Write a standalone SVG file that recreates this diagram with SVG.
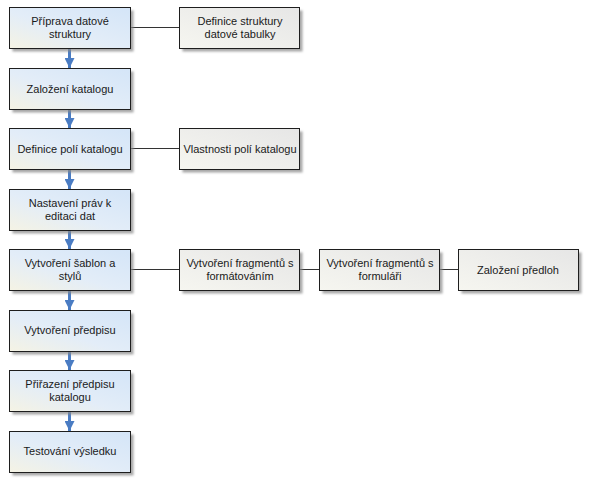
<svg xmlns="http://www.w3.org/2000/svg" width="595" height="483" viewBox="0 0 595 483">
<defs>
<linearGradient id="gb" x1="0" y1="1" x2="1" y2="0">
<stop offset="0" stop-color="#f5f3e4"/>
<stop offset="0.45" stop-color="#e3edf8"/>
<stop offset="1" stop-color="#d4e5f8"/>
</linearGradient>
<linearGradient id="gg" x1="0" y1="1" x2="1" y2="0">
<stop offset="0" stop-color="#f6f6f0"/>
<stop offset="1" stop-color="#e6e6e6"/>
</linearGradient>
<filter id="sh" x="-10%" y="-10%" width="130%" height="140%">
<feGaussianBlur stdDeviation="1.2"/>
</filter>
<marker id="ah" viewBox="0 0 10 10" refX="10" refY="5" markerWidth="10" markerHeight="10" markerUnits="userSpaceOnUse" orient="auto">
<path d="M0,0 L10,5 L0,10 Z" fill="#4a7cc3"/>
</marker>
</defs>
<style>
.sh{fill:#8a8a8a;opacity:0.75;filter:url(#sh)}
.b{fill:url(#gb);stroke:#1e1e1e;stroke-width:1}
.g{fill:url(#gg);stroke:#1e1e1e;stroke-width:1}
text{font-family:"Liberation Sans",Arial,sans-serif;font-size:11px;fill:#1a1a1a;text-anchor:middle}
.ar{stroke:#4a7cc3;stroke-width:3;fill:none;marker-end:url(#ah)}
.ln{stroke:#333;stroke-width:1;fill:none}
</style>
<rect width="595" height="483" fill="#ffffff"/>
<g id="connectors">
<path class="ar" d="M69.5,49 V68"/>
<path class="ar" d="M69.5,110 V128"/>
<path class="ar" d="M69.5,170 V189"/>
<path class="ar" d="M69.5,231 V249"/>
<path class="ar" d="M69.5,291 V310"/>
<path class="ar" d="M69.5,352 V370"/>
<path class="ar" d="M69.5,412 V431"/>
<path class="ln" d="M130,27.5 H179"/>
<path class="ln" d="M130,148.5 H179"/>
<path class="ln" d="M130,269.5 H179"/>
<path class="ln" d="M299,269.5 H319"/>
<path class="ln" d="M439,269.5 H458"/>
</g>
<g id="n1"><rect class="sh" x="12.5" y="10.5" width="121" height="41"/><rect class="b" x="9.5" y="7.5" width="121" height="41"/><text x="70" y="25">Příprava datové</text><text x="70" y="38">struktury</text></g>
<g id="n2"><rect class="sh" x="12.5" y="71.5" width="121" height="41"/><rect class="b" x="9.5" y="68.5" width="121" height="41"/><text x="70" y="93">Založení katalogu</text></g>
<g id="n3"><rect class="sh" x="12.5" y="131.5" width="121" height="41"/><rect class="b" x="9.5" y="128.5" width="121" height="41"/><text x="70" y="153">Definice polí katalogu</text></g>
<g id="n4"><rect class="sh" x="12.5" y="192.5" width="121" height="41"/><rect class="b" x="9.5" y="189.5" width="121" height="41"/><text x="70" y="207">Nastavení práv k</text><text x="70" y="220">editaci dat</text></g>
<g id="n5"><rect class="sh" x="12.5" y="252.5" width="121" height="41"/><rect class="b" x="9.5" y="249.5" width="121" height="41"/><text x="70" y="267">Vytvoření šablon a</text><text x="70" y="280">stylů</text></g>
<g id="n6"><rect class="sh" x="12.5" y="313.5" width="121" height="41"/><rect class="b" x="9.5" y="310.5" width="121" height="41"/><text x="70" y="334">Vytvoření předpisu</text></g>
<g id="n7"><rect class="sh" x="12.5" y="373.5" width="121" height="41"/><rect class="b" x="9.5" y="370.5" width="121" height="41"/><text x="70" y="388">Přiřazení předpisu</text><text x="70" y="401">katalogu</text></g>
<g id="n8"><rect class="sh" x="12.5" y="434.5" width="121" height="41"/><rect class="b" x="9.5" y="431.5" width="121" height="41"/><text x="70" y="455">Testování výsledku</text></g>
<g id="r1"><rect class="sh" x="182.5" y="10.5" width="120" height="41"/><rect class="g" x="179.5" y="7.5" width="120" height="41"/><text x="240" y="25">Definice struktury</text><text x="240" y="38">datové tabulky</text></g>
<g id="r2"><rect class="sh" x="182.5" y="131.5" width="120" height="41"/><rect class="g" x="179.5" y="128.5" width="120" height="41"/><text x="240" y="153">Vlastnosti polí katalogu</text></g>
<g id="r3"><rect class="sh" x="182.5" y="252.5" width="120" height="41"/><rect class="g" x="179.5" y="249.5" width="120" height="41"/><text x="240" y="267">Vytvoření fragmentů s</text><text x="240" y="280">formátováním</text></g>
<g id="r4"><rect class="sh" x="322.5" y="252.5" width="120" height="41"/><rect class="g" x="319.5" y="249.5" width="120" height="41"/><text x="380" y="267">Vytvoření fragmentů s</text><text x="380" y="280">formuláři</text></g>
<g id="r5"><rect class="sh" x="461.5" y="252.5" width="120" height="41"/><rect class="g" x="458.5" y="249.5" width="120" height="41"/><text x="518" y="274">Založení předloh</text></g>
</svg>
